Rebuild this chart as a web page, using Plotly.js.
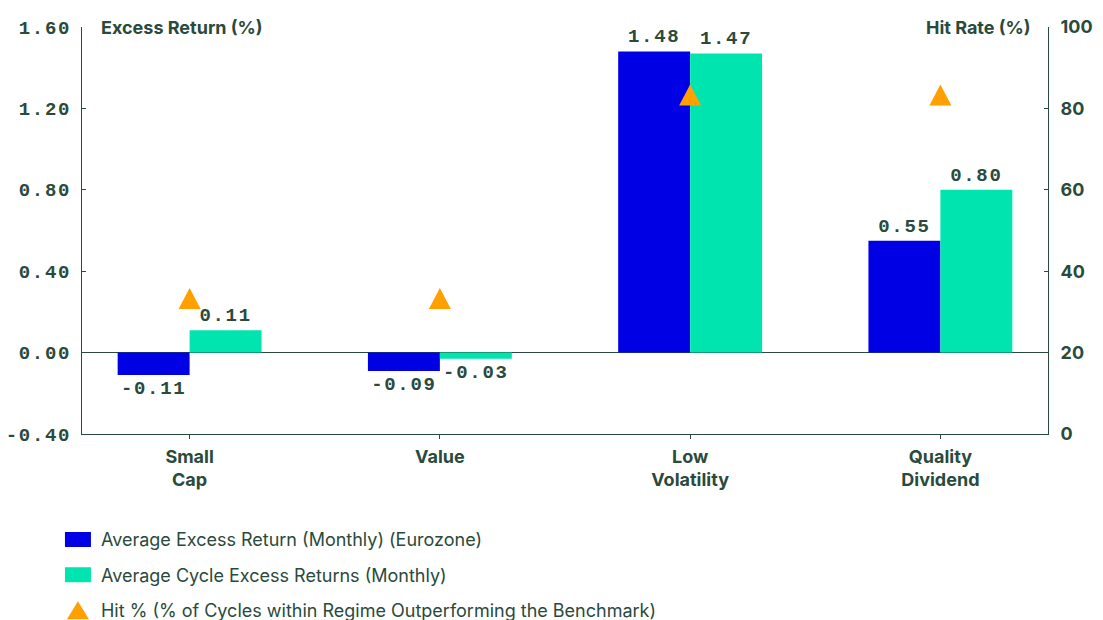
<!DOCTYPE html>
<html>
<head>
<meta charset="utf-8">
<script src="https://cdn.plot.ly/plotly-3.0.1.min.js"></script>
<style>
  html, body { margin: 0; padding: 0; background: #ffffff; }
  #chart { width: 1103px; height: 620px; }
  /* wider tracking for the monospaced figures */
  #chart .ytick text, #chart text.bartext { letter-spacing: 1.7px; }
</style>
</head>
<body>
<div id="chart"></div>
<script>
// Factor categories (two-line labels)
const categories = ["Small<br>Cap", "Value", "Low<br>Volatility", "Quality<br>Dividend"];

// Average excess return (monthly), Eurozone, %
const eurozoneReturn = [-0.11, -0.09, 1.48, 0.55];

// Average cycle excess returns (monthly), %
const cycleReturn = [0.11, -0.03, 1.47, 0.80];

// Hit rate: % of cycles within regime outperforming the benchmark
const hitRate = [33.3, 33.3, 83.3, 83.3];

// Left axis ticks (excess return, %) and right axis ticks (hit rate, %)
const returnTicks = [-0.4, 0, 0.4, 0.8, 1.2, 1.6];
const hitTicks = [0, 20, 40, 60, 80, 100];

const seriesNames = [
  "Average Excess Return (Monthly) (Eurozone)",
  "Average Cycle Excess Returns (Monthly)",
  "Hit % (% of Cycles within Regime Outperforming the Benchmark)"
];

const ink = "#2a4a3c";
const monoFont = "Liberation Mono, Courier New, monospace";
const sansFont = "Inter, Roboto, Arial, sans-serif";
const fmt = v => v.toFixed(2);

const traces = [
  {
    type: "bar",
    name: seriesNames[0],
    legendgroup: "a",
    x: categories,
    y: eurozoneReturn,
    marker: { color: "#0000e4" },
    text: eurozoneReturn.map(fmt),
    textposition: "outside",
    cliponaxis: false,
    textfont: { family: monoFont, size: 19, color: ink, weight: 700 },
    hoverinfo: "skip"
  },
  {
    type: "bar",
    name: seriesNames[1],
    legendgroup: "b",
    x: categories,
    y: cycleReturn,
    marker: { color: "#00e5b0" },
    text: cycleReturn.map(fmt),
    textposition: "outside",
    cliponaxis: false,
    textfont: { family: monoFont, size: 19, color: ink, weight: 700 },
    hoverinfo: "skip"
  },
  {
    type: "scatter",
    mode: "markers",
    name: seriesNames[2],
    legendgroup: "c",
    x: categories,
    y: hitRate,
    yaxis: "y2",
    marker: { symbol: "triangle-up", size: 19, color: "#ffa000" },
    cliponaxis: false,
    hoverinfo: "skip"
  }
];

const layout = {
  width: 1103,
  height: 620,
  paper_bgcolor: "#ffffff",
  plot_bgcolor: "#ffffff",
  margin: { l: 82, r: 55, t: 27, b: 186, autoexpand: false },
  barmode: "group",
  bargap: 0.425,
  bargroupgap: 0,
  showlegend: true,
  legend: {
    x: -0.028, xanchor: "left",
    y: -0.2144, yanchor: "top",
    orientation: "v",
    traceorder: "grouped",
    itemwidth: 36,
    font: { family: sansFont, size: 18, color: ink },
    tracegroupgap: 9
  },
  font: { family: sansFont, color: ink },
  xaxis: {
    type: "category",
    range: [-0.43, 3.43],
    showline: true,
    linecolor: ink,
    linewidth: 1,
    ticks: "outside",
    ticklen: 4,
    tickcolor: ink,
    tickfont: { family: sansFont, size: 18, color: ink, weight: 700 },
    ticklabelstandoff: 2,
    showgrid: false,
    automargin: false,
    fixedrange: true
  },
  yaxis: {
    range: [-0.4, 1.6],
    tickmode: "array",
    tickvals: returnTicks,
    ticktext: returnTicks.map(fmt),
    showline: true,
    linecolor: ink,
    linewidth: 1,
    ticks: "inside",
    ticklen: 4,
    tickcolor: ink,
    showgrid: false,
    zeroline: true,
    zerolinecolor: ink,
    zerolinewidth: 1,
    tickfont: { family: monoFont, size: 19, color: ink, weight: 700 },
    ticklabelstandoff: 6,
    automargin: false,
    fixedrange: true
  },
  yaxis2: {
    overlaying: "y",
    side: "right",
    range: [0, 100],
    tickmode: "array",
    tickvals: hitTicks,
    showline: true,
    linecolor: ink,
    linewidth: 1,
    ticks: "inside",
    ticklen: 4,
    tickcolor: ink,
    showgrid: false,
    zeroline: false,
    tickfont: { family: sansFont, size: 18, color: ink, weight: 700 },
    ticklabelstandoff: 8,
    automargin: false,
    fixedrange: true
  },
  annotations: [
    {
      xref: "paper", yref: "paper",
      x: 0.018, y: 1, xanchor: "left", yanchor: "middle",
      text: "Excess Return (%)", showarrow: false,
      font: { family: sansFont, size: 18, color: ink, weight: 700 }
    },
    {
      xref: "paper", yref: "paper",
      x: 0.984, y: 1, xanchor: "right", yanchor: "middle",
      text: "Hit Rate (%)", showarrow: false,
      font: { family: sansFont, size: 18, color: ink, weight: 700 }
    }
  ]
};

Plotly.newPlot("chart", traces, layout, { displayModeBar: false, staticPlot: true }).then(gd => {
  // Near-equilateral triangles for the hit-rate markers
  gd.querySelectorAll(".scatterlayer path.point").forEach(p => {
    p.setAttribute("d", "M-11,10.5H11L0,-10.5Z");
  });
  // Legend swatches: wide rectangles for the bars, a larger triangle for the hit rate
  const items = gd.querySelectorAll(".legend g.traces");
  items.forEach((item, i) => {
    const shape = i < 2 ? "M13,7.5H-13V-7.5H13Z" : "M-11,9H11L0,-9Z";
    item.querySelectorAll(".legendpoints path").forEach(p => p.setAttribute("d", shape));
  });
});
</script>
</body>
</html>
